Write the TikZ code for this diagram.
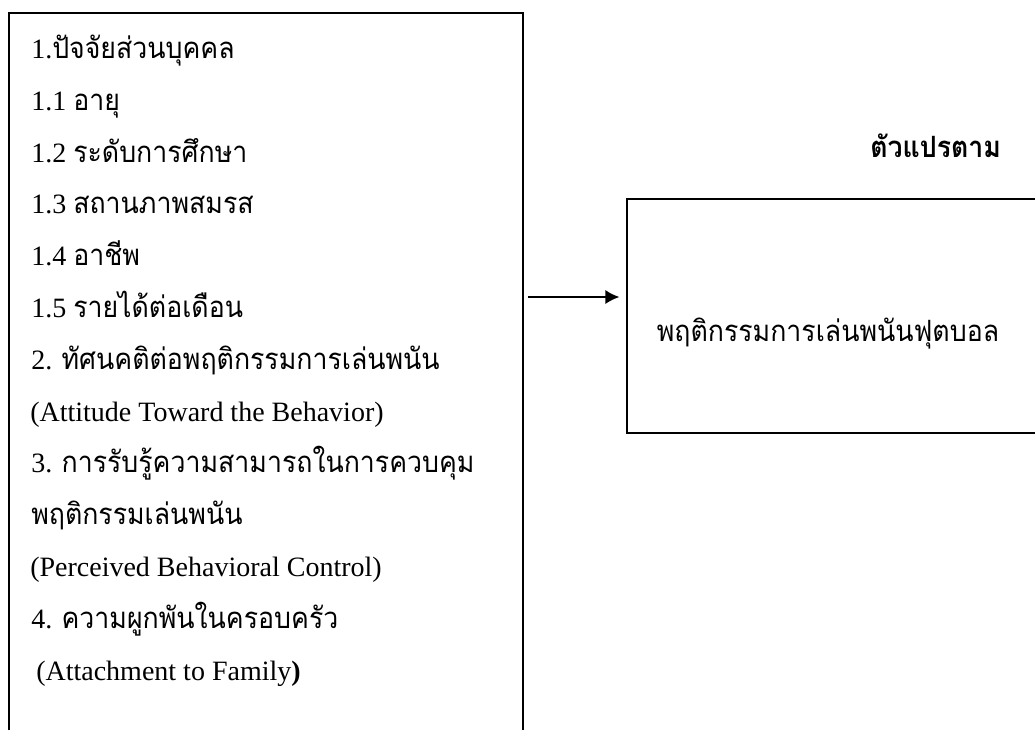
\documentclass[tikz,border=0pt]{standalone}
\usepackage{fontspec}
\setmainfont{Liberation Serif}
\newfontfamily\thaifont[Script=Thai,FakeStretch=0.91]{Loma}
\usetikzlibrary{arrows.meta,fit}
\newcommand\THx[1]{{\thaifont\fontsize{22pt}{26pt}\selectfont #1}}
\tikzset{
  boxst/.style={draw, line width=1.3pt, inner sep=0pt},
  txt/.style={anchor=base west, inner sep=0pt, font=\fontsize{21pt}{25pt}\selectfont},
  ctxt/.style={anchor=base, inner sep=0pt, font=\fontsize{21pt}{25pt}\selectfont},
  arr/.style={line width=1.3pt, -{Latex[length=10.5pt,width=10.5pt]}}
}
\begin{document}
\begin{tikzpicture}[x=0.75pt,y=-0.75pt]
\useasboundingbox (0,0) rectangle (1035,729);
% boxes (left box open at bottom, right box open at right)
\node[boxst, fit={(9,13) (523,770)}] (lbox) {};
\node[boxst, fit={(627,199) (1060,433)}] (rbox) {};
% left texts
\node[txt] (t1)  at (31,58.5)  {1.\THx{ปัจจัยส่วนบุคคล}};
\node[txt] (t2)  at (31,110.3) {1.1 \THx{อายุ}};
\node[txt] (t3)  at (31,162.1) {1.2 \THx{ระดับการศึกษา}};
\node[txt] (t4)  at (31,213.9) {1.3 \THx{สถานภาพสมรส}};
\node[txt] (t5)  at (31,265.7) {1.4 \THx{อาชีพ}};
\node[txt] (t6)  at (31,317.5) {1.5 \THx{รายได้ต่อเดือน}};
\node[txt] (t7)  at (31,369.3) {2. \THx{ทัศนคติต่อพฤติกรรมการเล่นพนัน}};
\node[txt] (t8)  at (30,421.1) {(Attitude Toward the Behavior)};
\node[txt] (t9)  at (31,472.9) {3. \THx{การรับรู้ความสามารถในการควบคุม}};
\node[txt] (t10) at (31,524.7) {\THx{พฤติกรรมเล่นพนัน}};
\node[txt] (t11) at (30,576.5) {(Perceived Behavioral Control)};
\node[txt] (t12) at (31,628.3) {4. \THx{ความผูกพันในครอบครัว}};
\node[txt] (t13) at (36,680.1) {(Attachment to Family\textbf{)}};
% right side
\node[txt] (head) at (870,157) {\THx{\bfseries ตัวแปรตาม}};
\node[ctxt] (rt) at (828,341) {\THx{พฤติกรรมการเล่นพนันฟุตบอล}};
% arrow
\coordinate (ay) at (0,297);
\draw[arr, shorten <=3pt, shorten >=5pt] (lbox.east |- ay) -- (rbox.west |- ay);
\end{tikzpicture}
\end{document}
